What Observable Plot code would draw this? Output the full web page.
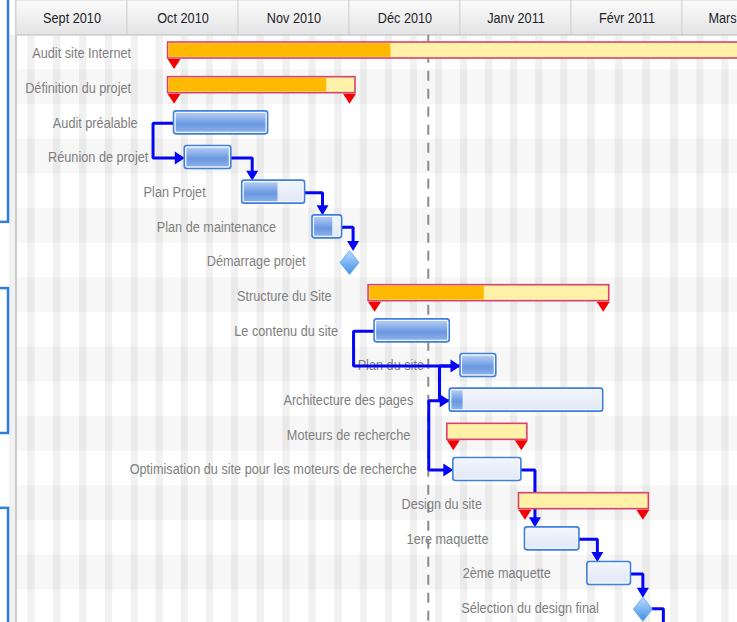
<!DOCTYPE html>
<html><head><meta charset="utf-8">
<script src="https://cdn.jsdelivr.net/npm/d3@7"></script>
<script src="https://cdn.jsdelivr.net/npm/@observablehq/plot@0.6"></script>
<style>
html,body{margin:0;padding:0;background:#fff;overflow:hidden}
#chart svg{display:block}
</style></head><body><div id="chart"></div>
<script>
// ---------- data ----------
const months = ["Sept 2010","Oct 2010","Nov 2010","Déc 2010","Janv 2011","Févr 2011","Mars 2011"];
const taskNames = [
  "Audit site Internet","Définition du projet","Audit préalable","Réunion de projet","Plan Projet",
  "Plan de maintenance","Démarrage projet","Structure du Site","Le contenu du site","Plan du site",
  "Architecture des pages","Moteurs de recherche","Optimisation du site pour les moteurs de recherche",
  "Design du site","1ere maquette","2ème maquette","Sélection du design final"];
const taskTypes = ["summary","summary","task","task","task","task","milestone","summary","task","task",
  "task","summary","task","summary","task","task","milestone"];
const taskStarts = ["2010-10-14","2010-10-14","2010-10-14","2010-10-17","2010-11-02","2010-11-21","2010-12-01",
  "2010-12-08","2010-12-08","2011-01-01","2010-12-29","2010-12-30","2010-12-30","2011-01-19","2011-01-19",
  "2011-02-05","2011-02-19"];
const taskEnds = ["2011-04-29","2010-12-01","2010-11-09","2010-10-30","2010-11-19","2010-11-29","2010-12-01",
  "2011-02-09","2010-12-29","2011-01-11","2011-02-09","2011-01-18","2011-01-18","2011-02-19","2011-02-03",
  "2011-02-16","2011-02-19"];
const taskProgress = [30, 87, 100, 100, 60, 75, 0, 48, 100, 100, 10, 0, 0, 0, 0, 0, 0];
const linkFrom = ["Audit préalable","Réunion de projet","Plan Projet","Plan de maintenance","Le contenu du site",
  "Plan du site","Architecture des pages","Optimisation du site pour les moteurs de recherche","1ere maquette",
  "2ème maquette","Sélection du design final"];
const linkTo = ["Réunion de projet","Plan Projet","Plan de maintenance","Démarrage projet","Plan du site",
  "Architecture des pages","Optimisation du site pour les moteurs de recherche","1ere maquette","2ème maquette",
  "Sélection du design final",null];
const linkTypes = ["SS","FS","FS","FS","SS","SS","SS","FS","FS","FS","FS"];
const todayDate = "2010-12-23";
const sidePanelTops = [-1.3, 7.31, 13.65];
const sidePanelBottoms = [5.40, 11.49, 17.6];

// ---------- geometry helpers ----------
const W = 737, H = 622, LEFT = 16, MONTH_PX = 111, ROW_PX = 624 / 18;
const xMax = (W - LEFT) / MONTH_PX;
const px = v => v / MONTH_PX;
const py = v => v / ROW_PX;
function fracParts(y, m, d) { // m 1-based
  const idx = (y - 2010) * 12 + (m - 1) - 8;
  const dim = new Date(Date.UTC(y, m, 0)).getUTCDate();
  return idx + (d - 1) / dim;
}
const frac = s => { const [y, m, d] = s.split("-").map(Number); return fracParts(y, m, d); };
const fracDate = dt => fracParts(dt.getUTCFullYear(), dt.getUTCMonth() + 1, dt.getUTCDate());

const tasks = taskNames.map((name, i) => ({
  name, i, type: taskTypes[i], s: frac(taskStarts[i]), e: frac(taskEnds[i]),
  p: taskProgress[i] / 100, yc: i + 0.5
}));
const byName = new Map(tasks.map(t => [t.name, t]));
const summaries = tasks.filter(t => t.type === "summary");
const bars = tasks.filter(t => t.type === "task");
const milestones = tasks.filter(t => t.type === "milestone");
const monthCells = months.map((m, i) => ({label: m, i}));
const stripedRows = d3.range(taskNames.length).filter(i => i % 2 === 1);
const weekends = d3.utcSaturday.range(new Date(Date.UTC(2010, 7, 28)), new Date(Date.UTC(2011, 3, 1)))
  .map(d => ({x1: Math.max(0, fracDate(d)), x2: fracDate(d3.utcDay.offset(d, 2))}));
const sidePanels = sidePanelTops.map((t, k) => ({top: t, bottom: sidePanelBottoms[k]}));

const labelX = t => t.type === "summary" ? t.s - px(43) : t.type === "milestone" ? t.s - px(44) : t.s - px(36.5);
const rightEdge = t => t.type === "milestone" ? t.s + px(9.5) : t.e;

// links
const linkPts = [], headsRight = [], headsDown = [];
linkFrom.forEach((f, k) => {
  const a = byName.get(f), b = linkTo[k] ? byName.get(linkTo[k]) : null;
  const ya = a.yc + py(1.5);
  if (linkTypes[k] === "SS") {
    const xv = a.s - px(21), yb = b.yc + py(1.5);
    [[a.s, ya], [xv, ya], [xv, yb], [b.s - px(6), yb]].forEach(([x, y]) => linkPts.push({k, x, y}));
    headsRight.push({x: b.s, y: yb});
  } else {
    const xe = rightEdge(a);
    let xv, yTop;
    if (b) {
      xv = Math.max(xe + px(11), b.type === "milestone" ? b.s : b.s + px(10));
      yTop = b.yc + py(b.type === "milestone" ? -9.5 : -10.5);
      headsDown.push({x: xv, y: yTop});
    } else { xv = xe + px(11); yTop = a.yc + 1.5; }
    [[xe, ya], [xv, ya], [xv, yTop - py(6)]].forEach(([x, y]) => linkPts.push({k, x, y}));
  }
});

// symbols
const arrowRight = {draw(c) { c.moveTo(0, 0); c.lineTo(-10, -6.5); c.lineTo(-10, 6.5); c.closePath(); }};
const arrowDown = {draw(c) { c.moveTo(0, 0); c.lineTo(-6, -10); c.lineTo(6, -10); c.closePath(); }};
const diamond = {draw(c) { c.moveTo(0, -12); c.lineTo(9.5, 0); c.lineTo(0, 12); c.lineTo(-9.5, 0); c.closePath(); }};
const redTri = {draw(c) { c.moveTo(-6.5, 0); c.lineTo(6.5, 0); c.lineTo(0, 10); c.closePath(); }};

const FONT = "'Liberation Sans',Arial,sans-serif";
const BLUE = "#0505f5";

const chart = Plot.plot({
  width: W, height: H,
  marginLeft: LEFT, marginRight: 0, marginTop: 0, marginBottom: 0,
  x: {type: "linear", domain: [0, xMax], axis: null},
  y: {type: "linear", domain: [-1, 17], range: [0, 624], axis: null},
  style: {background: "#fff", fontFamily: FONT},
  marks: [
    Plot.rect(sidePanels, {x1: -1, x2: -px(8), y1: "top", y2: "bottom", fill: "none", stroke: "#2f7fd9", strokeWidth: 2.5}),
    Plot.rect(stripedRows, {x1: 0, x2: xMax, y1: d => d, y2: d => d + 1, fill: "#f7f7f7"}),
    Plot.rect(weekends, {x1: "x1", x2: "x2", y1: 0, y2: 17.2, fill: "#000", fillOpacity: 0.055}),
    Plot.ruleX([0], {y1: -1, y2: 17.2, stroke: "#bdbdbd", strokeWidth: 1.5, dx: -0.5}),
    Plot.rect(monthCells, {x1: "i", x2: d => d.i + 1, y1: -1, y2: 0, fill: "url(#gHeader)", stroke: "#d2d2d2", strokeWidth: 1}),
    Plot.ruleY([0], {stroke: "#c8c8c8", strokeWidth: 1}),
    Plot.text(monthCells, {x: d => d.i + 0.5, y: -0.5, text: "label", fill: "#1e1e28", fontSize: 15.5, fontFamily: FONT}),
    Plot.ruleX([frac(todayDate)], {y1: 0, y2: 17.2, stroke: "#8c8c8c", strokeWidth: 2, strokeDasharray: "10,8"}),
    Plot.text(tasks, {x: labelX, y: d => d.yc + py(1), text: "name", textAnchor: "end", fill: "#7e7e7e", fontSize: 15.5, fontFamily: FONT}),
    Plot.line(linkPts, {x: "x", y: "y", z: "k", stroke: BLUE, strokeWidth: 3, strokeLinejoin: "miter", curve: "linear"}),
    Plot.dot(headsRight, {x: "x", y: "y", symbol: arrowRight, r: 5, fill: BLUE, stroke: "none"}),
    Plot.dot(headsDown, {x: "x", y: "y", symbol: arrowDown, r: 5, fill: BLUE, stroke: "none"}),
    Plot.rect(summaries, {x1: d => d.s - px(6), x2: d => d.e + px(6), y1: d => d.yc - py(10), y2: d => d.yc + py(6), fill: "#fff2a8", stroke: "#d9416d", strokeWidth: 1.6}),
    Plot.rect(summaries.filter(d => d.p > 0), {x1: d => d.s - px(6), x2: d => d.s + d.p * (d.e - d.s), y1: d => d.yc - py(10), y2: d => d.yc + py(6), fill: "#ffb900", insetTop: 1.2, insetBottom: 1.2, insetLeft: 1.2}),
    Plot.dot(summaries, {x: "s", y: d => d.yc + py(6.5), symbol: redTri, r: 5, fill: "#f40000", stroke: "none"}),
    Plot.dot(summaries, {x: "e", y: d => d.yc + py(6.5), symbol: redTri, r: 5, fill: "#f40000", stroke: "none"}),
    Plot.rect(bars, {x1: "s", x2: "e", y1: d => d.yc - py(10.5), y2: d => d.yc + py(12.5), fill: "url(#gTaskRem)", stroke: "#3f7fdc", strokeWidth: 1.6, rx: 2.5}),
    Plot.rect(bars.filter(d => d.p > 0), {x1: "s", x2: d => d.s + d.p * (d.e - d.s), y1: d => d.yc - py(10.5), y2: d => d.yc + py(12.5), fill: "url(#gTaskProg)", inset: 2}),
    Plot.rect(bars, {x1: "s", x2: "e", y1: d => d.yc - py(10.5), y2: d => d.yc + py(12.5), fill: "none", stroke: "#ffffff", strokeOpacity: 0.55, strokeWidth: 1, inset: 1.6, rx: 1.5}),
    Plot.dot(milestones, {x: "s", y: d => d.yc + py(2), symbol: diamond, r: 6, fill: "url(#gDiamond)", stroke: "#5fa2ee", strokeWidth: 0.8})
  ]
});

// gradients
const defs = d3.create("svg:defs");
function grad(id, stops) {
  const g = defs.append("linearGradient").attr("id", id).attr("x1", 0).attr("x2", 0).attr("y1", 0).attr("y2", 1);
  stops.forEach(([o, c]) => g.append("stop").attr("offset", o).attr("stop-color", c));
}
grad("gHeader", [[0, "#fbfbfb"], [1, "#e4e4e6"]]);
grad("gTaskRem", [[0, "#f2f5fc"], [1, "#e0e8f6"]]);
grad("gTaskProg", [[0, "#b3ccf3"], [0.45, "#7aa4e6"], [0.6, "#6a97e0"], [1, "#8ab0ea"]]);
grad("gDiamond", [[0, "#bcdcfc"], [1, "#3f90e8"]]);
chart.insertBefore(defs.node(), chart.firstChild);

// narrow (condensed) text rendering: scale glyphs horizontally about each anchor
const isNum = v => v != null && v.trim() !== "" && !isNaN(+v);
chart.querySelectorAll("text").forEach(el => {
  let t = el.getAttribute("transform") || "";
  const x = el.getAttribute("x"), y = el.getAttribute("y");
  if (isNum(x) || isNum(y)) {
    t = `translate(${isNum(x) ? +x : 0},${isNum(y) ? +y : 0}) ` + t;
    if (isNum(x)) el.removeAttribute("x");
    if (isNum(y)) el.removeAttribute("y");
  }
  el.setAttribute("transform", (t + " scale(0.82,1)").trim());
});
document.getElementById("chart").appendChild(chart);
</script></body></html>
